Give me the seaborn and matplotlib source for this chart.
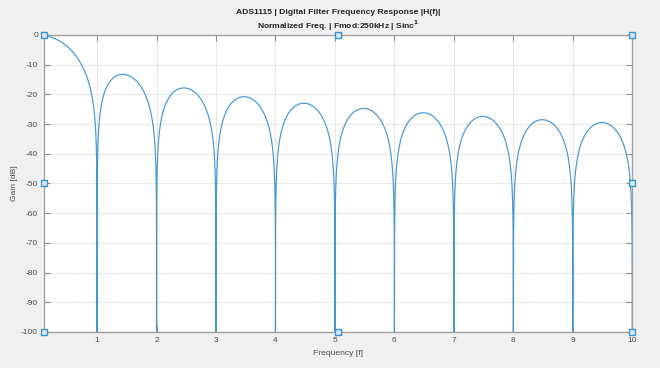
import numpy as np
import pandas as pd
import matplotlib
matplotlib.use("Agg")
import matplotlib.pyplot as plt
import seaborn as sns

# ---- data ----
# Sinc^1 digital filter response, normalized frequency 0.1..10
freq = np.linspace(0.1, 10.0, 9901)
gain_floor = -100.0
with np.errstate(divide="ignore"):
    gain = np.clip(20.0 * np.log10(np.abs(np.sinc(freq))), gain_floor, 0.0)

# edit-handle markers seen on the axes box (corners and mid-sides)
handle_x = [0.1, 5.05, 10, 0.1, 10, 0.1, 5.05, 10]
handle_y = [0, 0, 0, -50, -50, -100, -100, -100]

x_ticks = [1, 2, 3, 4, 5, 6, 7, 8, 9, 10]
y_ticks = [0, -10, -20, -30, -40, -50, -60, -70, -80, -90, -100]

title_line1 = "ADS1115 | Digital Filter Frequency Response |H(f)|"
title_line2 = "Normalized Freq. | Fmod:250kHz | Sinc$^{\\mathbf{1}}$"

df = pd.DataFrame({"Frequency": freq, "Gain": gain})
hdf = pd.DataFrame({"x": handle_x, "y": handle_y})

sns.set_theme(style="white")
plt.rcParams["font.family"] = ["Liberation Sans", "DejaVu Sans"]

fig = plt.figure(figsize=(6.6, 3.68), dpi=100, facecolor="#f0f0f0")
ax = fig.add_axes([0.066, 0.098, 0.892, 0.807])
ax.set_facecolor("white")

line_col = "#4597d4"
sns.lineplot(data=df, x="Frequency", y="Gain", ax=ax, color=line_col,
             linewidth=0.85, estimator=None, sort=False)
sns.scatterplot(data=hdf, x="x", y="y", ax=ax, marker="s", s=16,
                facecolor="#dbe9f6", edgecolor="#3f93d2", linewidth=1.0,
                zorder=5, clip_on=False)

ax.set_xlim(0.1, 10)
ax.set_ylim(-100, 0)
ax.set_xticks(x_ticks)
ax.set_yticks(y_ticks)
ax.set_xticklabels([str(t) for t in x_ticks])
ax.set_yticklabels([str(t) for t in y_ticks])
ax.grid(True, color="#e8e8e8", linewidth=0.8)
ax.set_axisbelow(True)
ax.tick_params(direction="in", length=4, width=0.8, colors="#8c8c8c",
               labelcolor="#4d4d4d", labelsize=6.0, top=True, right=True,
               bottom=True, left=True, pad=4)
for sp in ax.spines.values():
    sp.set_color("#a0a0a0")
    sp.set_linewidth(1.0)

ax.set_xlabel("Frequency [f]", fontsize=6.1, color="#4d4d4d", labelpad=4)
ax.set_ylabel("Gain [dB]", fontsize=6.1, color="#4d4d4d", labelpad=2)

xc = 0.066 + 0.892 / 2
fig.text(xc, 1 - 13 / 368, title_line1, ha="center", va="center",
         fontsize=6.1, fontweight="bold", color="#262626")
fig.text(xc, 1 - 26 / 368, title_line2, ha="center", va="center",
         fontsize=6.1, fontweight="bold", color="#262626")

fig.savefig("out.png", dpi=100, facecolor=fig.get_facecolor())
